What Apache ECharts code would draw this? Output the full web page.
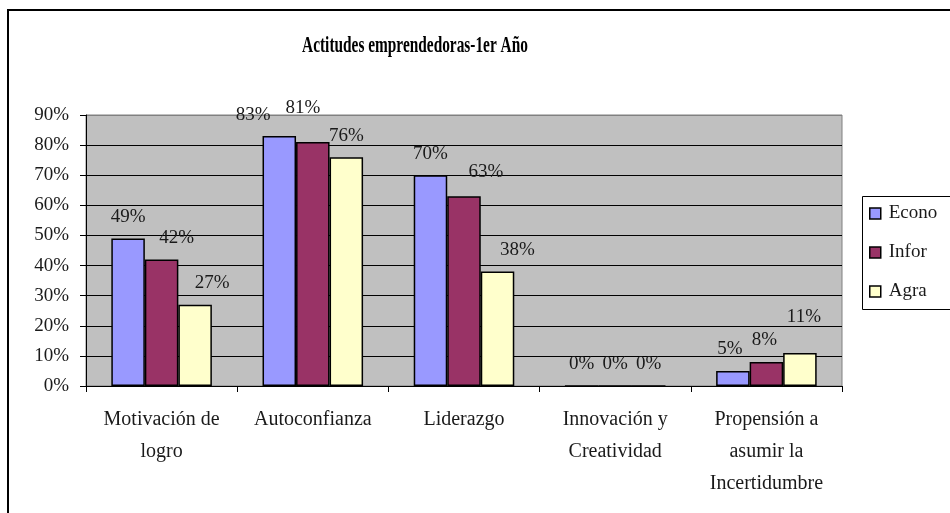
<!DOCTYPE html>
<html>
<head>
<meta charset="utf-8">
<script src="https://cdn.jsdelivr.net/npm/echarts@6/dist/echarts.min.js"></script>
<style>
  html, body { margin: 0; padding: 0; background: #fff; }
  #chart { width: 950px; height: 513px; }
</style>
</head>
<body>
<div id="chart"></div>
<script>
// Categories (axis labels with manual line breaks)
const categories = [
  'Motivación de\nlogro',
  'Autoconfianza',
  'Liderazgo',
  'Innovación y\nCreatividad',
  'Propensión a\nasumir la\nIncertidumbre'
];

// Series values in percent
const econo = [49, 83, 70, 0, 5];
const infor = [42, 81, 63, 0, 8];
const agra  = [27, 76, 38, 0, 11];

const seriesNames = ['Econo', 'Infor', 'Agra'];

// Y axis ticks
const yMin = 0;
const yMax = 90;
const yStep = 10;

const title = 'Actitudes emprendedoras-1er Año';

// Small per-label nudges [dx, dy] so the value labels sit where they were placed by hand
const labelNudge = [
  [[0, 0], [-26, 0], [0, 0], [0, 0], [-3, 0]],
  [[15, 0], [-10, -13], [22, -3], [0, 0], [-2, 0]],
  [[17, 0], [0, 0], [20, 0], [0, 0], [4, -14]]
];

const colors = ['#9999FF', '#993366', '#FFFFCC'];
const FONT = '"Liberation Serif", "Times New Roman", serif';

function makeSeries(name, values, idx) {
  return {
    name: name,
    type: 'bar',
    barGap: '0%',
    barCategoryGap: '33.5%',
    itemStyle: { color: colors[idx], borderColor: '#000', borderWidth: 1.5 },
    label: {
      show: true,
      position: 'top',
      distance: 12,
      fontFamily: FONT,
      fontSize: 19,
      color: '#1a1a1a',
      formatter: '{c}%'
    },
    emphasis: { disabled: true },
    data: values.map((v, i) => ({
      value: v,
      label: { offset: labelNudge[idx][i] }
    }))
  };
}

const splitColors = [];
for (let v = yMin; v <= yMax; v += yStep) {
  splitColors.push(v === yMax ? '#808080' : '#000');
}

const chart = echarts.init(document.getElementById('chart'), null, { renderer: 'canvas' });
chart.setOption({
  animation: false,
  backgroundColor: '#fff',
  graphic: [
    {
      // outer chart frame, running past the right and bottom edges
      type: 'rect',
      z: -10,
      shape: { x: 8, y: 10, width: 1000, height: 600 },
      style: { fill: 'none', stroke: '#000', lineWidth: 2 }
    },
    {
      // legend frame, running past the right edge
      type: 'rect',
      z: -5,
      shape: { x: 862.5, y: 196.5, width: 200, height: 113 },
      style: { fill: '#fff', stroke: '#000', lineWidth: 1 }
    },
    {
      type: 'text',
      x: 415,
      y: 46,
      scaleX: 0.64,
      style: {
        text: title,
        font: 'bold 24px ' + FONT,
        fill: '#000',
        textAlign: 'center',
        textVerticalAlign: 'middle'
      }
    }
  ],
  grid: {
    left: 86,
    right: 108,
    top: 115,
    bottom: 127,
    show: true,
    backgroundColor: '#C0C0C0',
    borderColor: '#808080',
    borderWidth: 1
  },
  legend: {
    orient: 'vertical',
    left: 862,
    top: 196,
    padding: [8, 10, 8, 7],
    itemGap: 20,
    itemWidth: 11,
    itemHeight: 11,
    icon: 'rect',
    borderWidth: 0,
    textStyle: { fontFamily: FONT, fontSize: 19, color: '#1a1a1a', padding: [0, 0, 0, 3] },
    itemStyle: { borderColor: '#000', borderWidth: 1.5 },
    data: seriesNames
  },
  xAxis: {
    type: 'category',
    data: categories,
    axisLine: { lineStyle: { color: '#000', width: 1 } },
    axisTick: { show: true, alignWithLabel: false, length: 6, lineStyle: { color: '#000' } },
    axisLabel: {
      interval: 0,
      margin: 18,
      fontFamily: FONT,
      fontSize: 20,
      lineHeight: 32,
      color: '#1a1a1a',
      align: 'center'
    },
    splitLine: { show: false }
  },
  yAxis: {
    type: 'value',
    min: yMin,
    max: yMax,
    interval: yStep,
    axisLine: { show: true, lineStyle: { color: '#000', width: 1 } },
    axisTick: { show: true, length: 6, lineStyle: { color: '#000' } },
    axisLabel: {
      margin: 17,
      fontFamily: FONT,
      fontSize: 19,
      color: '#1a1a1a',
      formatter: '{value}%'
    },
    splitLine: { show: true, lineStyle: { color: splitColors, width: 1 } }
  },
  series: [
    makeSeries(seriesNames[0], econo, 0),
    makeSeries(seriesNames[1], infor, 1),
    makeSeries(seriesNames[2], agra, 2)
  ]
});
</script>
</body>
</html>
